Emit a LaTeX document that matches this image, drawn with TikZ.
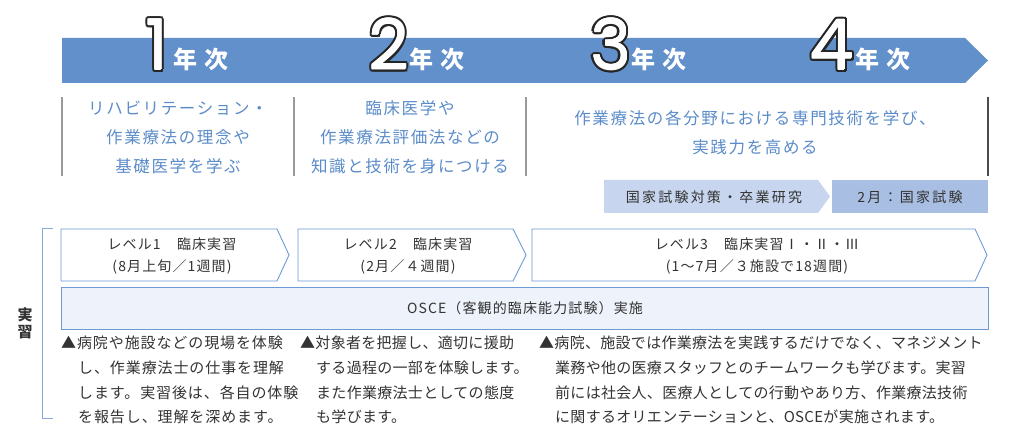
\documentclass[tikz,border=0pt]{standalone}
\usepackage{fontspec}
\setmainfont{Noto Sans CJK JP}
\newfontfamily\jpyear[LetterSpace=30]{Noto Sans CJK JP}
\newfontfamily\jpdesc[LetterSpace=10]{Noto Sans CJK JP}
\newfontfamily\jpbox[LetterSpace=8]{Noto Sans CJK JP}
\newfontfamily\jpgray[LetterSpace=16]{Noto Sans CJK JP}
\newfontfamily\jpbulA[LetterSpace=6]{Noto Sans CJK JP}
\newfontfamily\jpbulB[LetterSpace=2]{Noto Sans CJK JP}
\newfontfamily\numfont{Poppins}
\definecolor{band}{HTML}{6190CB}
\definecolor{desc}{HTML}{5B8CC9}
\definecolor{lvl}{HTML}{6E9AD4}
\definecolor{osce}{HTML}{EEF2FA}
\definecolor{grayA}{HTML}{C7D6EE}
\definecolor{grayB}{HTML}{A8BEE2}
\definecolor{txt}{HTML}{333333}
\definecolor{sep}{HTML}{9A9A9A}
\begin{document}
\begin{tikzpicture}[x=1pt,y=-1pt,
  numtxt/.style={font=\numfont\fontsize{70}{70}\selectfont, anchor=base, inner sep=0},
  yeartxt/.style={font=\jpyear\bfseries\fontsize{24}{24}\selectfont, text=white, inner sep=0},
  desctxt/.style={font=\jpdesc\fontsize{16.5}{29}\selectfont, text=desc, align=center, inner sep=0},
  sepline/.style={draw=sep, line width=1.2pt},
  lvlbox/.style={draw=lvl, fill=white, line width=0.9pt},
  lvltxt/.style={font=\jpbox\fontsize{14}{22}\selectfont, text=txt, align=center, inner sep=0},
  graytxt/.style={font=\jpgray\fontsize{14}{16}\selectfont, text=txt, inner sep=0},
  bulA/.style={font=\jpbulA\fontsize{15}{18}\selectfont, text=txt, anchor=west, inner sep=0},
  bulB/.style={font=\jpbulB\fontsize{15}{18}\selectfont, text=txt, anchor=west, inner sep=0},
]
\useasboundingbox[fill=white] (0,0) rectangle (1024,443);

% year band
\fill[band] (62,38) -- (965,38) -- (988,60.5) -- (965,83) -- (62,83) -- cycle;
\foreach \n/\nx/\yx in {1/157/201, 2/389/437, 3/611/659, 4/832/883}{
  \foreach \a in {0,30,...,330}{
    \node[numtxt, text=black!85, shift={(\a:2.4)}] at (\nx,70) {\n};
  }
  \foreach \a in {0,120,240}{
    \node[numtxt, text=white, shift={(\a:0.6)}] at (\nx,70) {\n};
  }
  \node[numtxt, text=white] (num\n) at (\nx,70) {\n};
  \node[yeartxt] (yr\n) at (\yx,59) {年次};
}

% separators
\draw[sepline] (62,97) -- (62,176);
\draw[sepline] (294,97) -- (294,176);
\draw[sepline] (526,97) -- (526,176);
\draw[sepline, draw=black!70] (988,97) -- (988,176);

% descriptions
\node[desctxt] (d1) at (178,137) {リハビリテーション・\\作業療法の理念や\\基礎医学を学ぶ};
\node[desctxt] (d2) at (410,137) {臨床医学や\\作業療法評価法などの\\知識と技術を身につける};
\node[desctxt] (d3) at (755,133) {作業療法の各分野における専門技術を学び、\\実践力を高める};

% gray boxes
\fill[grayA] (604,180) -- (818,180) -- (830,196.5) -- (818,213) -- (604,213) -- cycle;
\fill[grayB] (832,180) rectangle (988,213);
\node[graytxt] (g1) at (714,197) {国家試験対策・卒業研究};
\node[graytxt] (g2) at (910,197) {2月：国家試験};

% bracket and label
\draw[draw=lvl!85, line width=1pt] (53,229) -- (42,229) -- (42,418) -- (53,418);
\node[font=\bfseries\fontsize{15}{17}\selectfont, text=txt, align=center, inner sep=0] (jis) at (25,323) {実\\習};

% level boxes
\draw[lvlbox] (61,229) -- (277,229) -- (289,255) -- (277,281) -- (61,281) -- cycle;
\draw[lvlbox] (298,229) -- (513,229) -- (526,255) -- (513,281) -- (298,281) -- cycle;
\draw[lvlbox] (532,229) -- (975,229) -- (987,255) -- (975,281) -- (532,281) -- cycle;
\node[lvltxt] (l1) at (172,256) {レベル1　臨床実習\\(8月上旬／1週間)};
\node[lvltxt] (l2) at (408,256) {レベル2　臨床実習\\(2月／４週間)};
\node[lvltxt] (l3) at (757,256) {レベル3　臨床実習Ⅰ・Ⅱ・Ⅲ\\(1～7月／３施設で18週間)};

% OSCE
\draw[draw=lvl, fill=osce, line width=0.9pt] (61,287) rectangle (988,329);
\node[font=\jpbox\fontsize{14}{16}\selectfont, text=txt, inner sep=0] (osce) at (525,308) {OSCE（客観的臨床能力試験）実施};

% bullets col1
\node[bulA] (a1) at (61,343) {▲病院や施設などの現場を体験};
\node[bulA] (a2) at (78,368) {し、作業療法士の仕事を理解};
\node[bulA] (a3) at (78,393) {します。実習後は、各自の体験};
\node[bulA] (a4) at (78,417) {を報告し、理解を深めます。};
% col2
\node[bulB] (b1) at (300,343) {▲対象者を把握し、適切に援助};
\node[bulB] (b2) at (316,368) {する過程の一部を体験します。};
\node[bulB] (b3) at (316,393) {また作業療法士としての態度};
\node[bulB] (b4) at (316,417) {も学びます。};
% col3
\node[bulB] (c1) at (539,343) {▲病院、施設では作業療法を実践するだけでなく、マネジメント};
\node[bulB] (c2) at (555,368) {業務や他の医療スタッフとのチームワークも学びます。実習};
\node[bulB] (c3) at (555,393) {前には社会人、医療人としての行動やあり方、作業療法技術};
\node[bulB] (c4) at (555,417) {に関するオリエンテーションと、OSCEが実施されます。};
\end{tikzpicture}
\end{document}
